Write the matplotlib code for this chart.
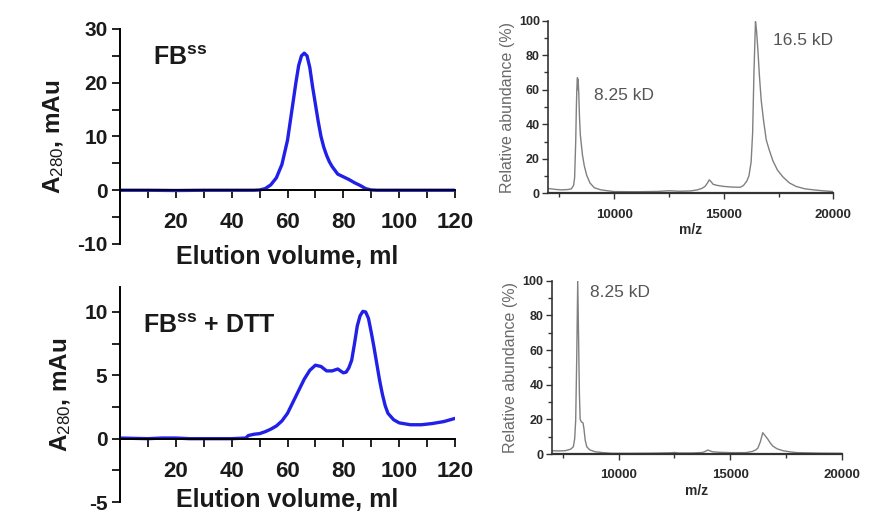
import matplotlib
matplotlib.use("Agg")
import matplotlib.pyplot as plt
from matplotlib.ticker import MultipleLocator

plt.rcParams['font.family'] = ['Liberation Sans', 'DejaVu Sans']
plt.rcParams['mathtext.fontset'] = 'custom'
plt.rcParams['mathtext.rm'] = 'Liberation Sans'
plt.rcParams['mathtext.it'] = 'Liberation Sans:italic'
plt.rcParams['mathtext.bf'] = 'Liberation Sans:bold'
plt.rcParams['axes.unicode_minus'] = False

# SEC traces (elution volume in ml, A280 in mAu)
sec_ox_ml = [0, 10, 20, 30, 40, 48, 50, 52, 54, 56, 58, 60, 62, 63, 64, 65, 66, 67,
             68, 69, 70, 71, 72, 73, 74, 75, 76, 78, 80, 82, 84, 86, 88, 90, 92,
             100, 110, 120]
sec_ox_au = [0, 0, -0.05, 0, 0, 0, 0.05, 0.3, 1.0, 2.3, 4.8, 9.3, 16.4, 20.0, 23.2,
             25.0, 25.5, 25.0, 22.8, 19.2, 16.0, 12.8, 10.0, 8.0, 6.5, 5.3, 4.4,
             3.0, 2.5, 2.0, 1.4, 0.9, 0.3, 0.05, 0, 0, 0, 0]

sec_dtt_ml = [0, 10, 15, 20, 25, 30, 40, 45, 46, 48, 50, 52, 54, 56, 58, 60, 62, 64,
              66, 68, 70, 72, 74, 76, 78, 80, 81, 82, 83, 84, 85, 86, 87, 88, 89,
              90, 91, 92, 93, 94, 95, 96, 98, 100, 104, 108, 112, 116, 120]
sec_dtt_au = [0.05, 0, 0.05, 0.05, 0, 0, 0, 0.05, 0.25, 0.35, 0.4, 0.55, 0.75, 1.0,
              1.4, 2.0, 2.9, 3.8, 4.7, 5.4, 5.8, 5.7, 5.35, 5.35, 5.5, 5.2, 5.25,
              5.6, 6.2, 7.5, 8.9, 9.7, 10.05, 10.0, 9.5, 8.4, 7.2, 5.9, 4.6, 3.5,
              2.6, 2.0, 1.5, 1.25, 1.1, 1.1, 1.2, 1.35, 1.6]

# Mass spectra (m/z, relative abundance %)
ms_ox_mz = [7000, 7300, 7600, 7900, 8050, 8150, 8200, 8250, 8280, 8300, 8330, 8345,
            8360, 8390, 8420, 8460, 8500, 8560, 8640, 8750, 8900, 9100, 9400, 10000,
            11000, 12000, 12500, 13000, 13500, 13800, 14000, 14150, 14250, 14340,
            14420, 14520, 14700, 15000, 15400, 15750, 15900, 16050, 16150, 16250,
            16320, 16380, 16450, 16500, 16560, 16630, 16710, 16820, 16940, 17080,
            17240, 17450, 17700, 18000, 18300, 18700, 19100, 19500, 20000]
ms_ox_ab = [2.8, 2.3, 2.0, 2.2, 2.6, 4.5, 9.0, 30.0, 50.0, 60.0, 67.0, 60.0, 66.0,
            58.0, 45.0, 34.0, 29.0, 22.0, 16.0, 10.5, 6.0, 3.2, 2.0, 1.0, 0.9, 1.1,
            1.5, 1.2, 1.4, 2.0, 2.8, 4.0, 5.8, 7.8, 6.8, 5.2, 4.6, 4.0, 3.6, 3.5,
            4.5, 7.0, 10.0, 18.0, 35.0, 70.0, 99.5, 94.0, 83.0, 68.0, 54.0, 42.0,
            31.0, 25.0, 19.0, 13.5, 9.5, 6.0, 4.0, 2.6, 2.0, 1.5, 1.0]

ms_dtt_mz = [7000, 7300, 7600, 7850, 7970, 8030, 8074, 8120, 8165, 8200, 8240, 8274,
             8330, 8400, 8440, 8500, 8571, 8700, 8950, 9300, 9700, 10500, 11500,
             12300, 12500, 12700, 13300, 13760, 13900, 13990, 14100, 14210, 14500,
             15000, 15700, 16000, 16150, 16240, 16350, 16460, 16540, 16690, 16800,
             16910, 17100, 17370, 17700, 18000, 19000, 20000]
ms_dtt_ab = [1.9, 1.8, 1.9, 2.8, 4.2, 9.0, 19.6, 55.0, 100.0, 70.0, 35.0, 20.0,
             18.5, 18.0, 15.0, 8.0, 4.2, 2.4, 1.3, 0.8, 0.4, 0.4, 0.5, 0.7, 0.9,
             0.6, 0.6, 0.9, 1.6, 2.3, 1.8, 1.3, 1.0, 0.8, 0.8, 1.5, 2.4, 3.4, 7.0,
             12.3, 11.0, 8.5, 6.3, 4.6, 3.0, 1.9, 1.2, 0.8, 0.5, 0.4]

BLUE = '#2020e8'
GREY = '#808080'

fig = plt.figure(figsize=(8.78, 5.14), dpi=100)


def style_sec(ax, ylim, ymaj, ymin, xlab_y):
    ax.set_xlim(0, 120)
    ax.set_ylim(*ylim)
    ax.spines['top'].set_visible(False)
    ax.spines['right'].set_visible(False)
    ax.spines['bottom'].set_position(('data', 0))
    ax.spines['left'].set_linewidth(1.4)
    ax.spines['bottom'].set_linewidth(1.4)
    ax.xaxis.set_major_locator(MultipleLocator(20))
    ax.xaxis.set_minor_locator(MultipleLocator(10))
    ax.yaxis.set_major_locator(MultipleLocator(ymaj))
    ax.yaxis.set_minor_locator(MultipleLocator(ymin))
    ax.tick_params(axis='both', which='both', direction='out', length=6,
                   width=1.4, color='#222222')
    ax.tick_params(axis='x', which='major', pad=10, labelsize=16)
    ax.tick_params(axis='y', which='major', pad=3, labelsize=15)
    ax.set_xticks([20, 40, 60, 80, 100, 120])
    for lab in ax.get_xticklabels() + ax.get_yticklabels():
        lab.set_fontweight('bold')
        lab.set_color('#1a1a1a')
    ax.set_ylabel("A$_{280}$, mAu", fontsize=17.5, fontweight='bold',
                  color='#1a1a1a', labelpad=8)
    ax.text(0.5, xlab_y, "Elution volume, ml", transform=ax.transAxes,
            ha='center', va='top', fontsize=18, fontweight='bold',
            color='#1a1a1a')


# top-left: oxidised form
ax1 = fig.add_axes([0.1367, 0.5253, 0.3815, 0.4183])
ax1.plot(sec_ox_ml, sec_ox_au, color=BLUE, lw=2.4, solid_capstyle='round')
style_sec(ax1, (-10, 30), 10, 5, -0.005)
ax1.text(11.8, 23.3, r"FB$^{\mathbf{ss}}$", fontsize=18, fontweight='bold',
         color='#1a1a1a', va='baseline')

# bottom-left: with DTT
ax2 = fig.add_axes([0.1367, 0.0233, 0.3815, 0.419])
ax2.plot(sec_dtt_ml, sec_dtt_au, color=BLUE, lw=2.4, solid_capstyle='round')
style_sec(ax2, (-5, 12), 5, 2.5, 0.065)
ax2.text(8.2, 8.36, r"FB$^{\mathbf{ss}}$ + DTT", fontsize=18, fontweight='bold',
         color='#1a1a1a', va='baseline')


def style_ms(ax):
    ax.set_xlim(7000, 20000)
    ax.set_ylim(0, 100)
    ax.spines['top'].set_visible(False)
    ax.spines['right'].set_visible(False)
    ax.spines['left'].set_linewidth(1.2)
    ax.spines['bottom'].set_linewidth(1.6)
    ax.spines['left'].set_color('#333333')
    ax.spines['bottom'].set_color('#333333')
    ax.xaxis.set_major_locator(MultipleLocator(5000))
    ax.xaxis.set_minor_locator(MultipleLocator(2500))
    ax.yaxis.set_major_locator(MultipleLocator(20))
    ax.yaxis.set_minor_locator(MultipleLocator(10))
    ax.tick_params(axis='both', which='both', direction='out', width=1.0,
                   color='#333333')
    ax.tick_params(axis='both', which='major', length=4)
    ax.tick_params(axis='both', which='minor', length=3)
    ax.tick_params(axis='x', which='major', pad=7, labelsize=9.5)
    ax.tick_params(axis='y', which='major', pad=2, labelsize=9)
    ax.set_xticks([10000, 15000, 20000])
    for lab in ax.get_xticklabels() + ax.get_yticklabels():
        lab.set_fontweight('bold')
        lab.set_color('#2a2a2a')
    ax.set_xlabel("m/z", fontsize=10, fontweight='bold', color='#2a2a2a',
                  labelpad=2)
    ax.set_ylabel("Relative abundance (%)", fontsize=11.5, color='#6a6a6a',
                  labelpad=3)


# top-right: MS of oxidised form
ax3 = fig.add_axes([0.6245, 0.6239, 0.3246, 0.3358])
ax3.plot(ms_ox_mz, ms_ox_ab, color=GREY, lw=1.0)
style_ms(ax3)
ax3.text(9096, 54, "8.25 kD", fontsize=12.5, color='#555555', va='baseline')
ax3.text(17237, 86, "16.5 kD", fontsize=12.5, color='#555555', va='baseline')

# bottom-right: MS with DTT
ax4 = fig.add_axes([0.6284, 0.1167, 0.3303, 0.3372])
ax4.plot(ms_dtt_mz, ms_dtt_ab, color=GREY, lw=1.0)
style_ms(ax4)
ax4.text(8724, 90.8, "8.25 kD", fontsize=12.5, color='#555555', va='baseline')

fig.savefig("out.png", dpi=100)
